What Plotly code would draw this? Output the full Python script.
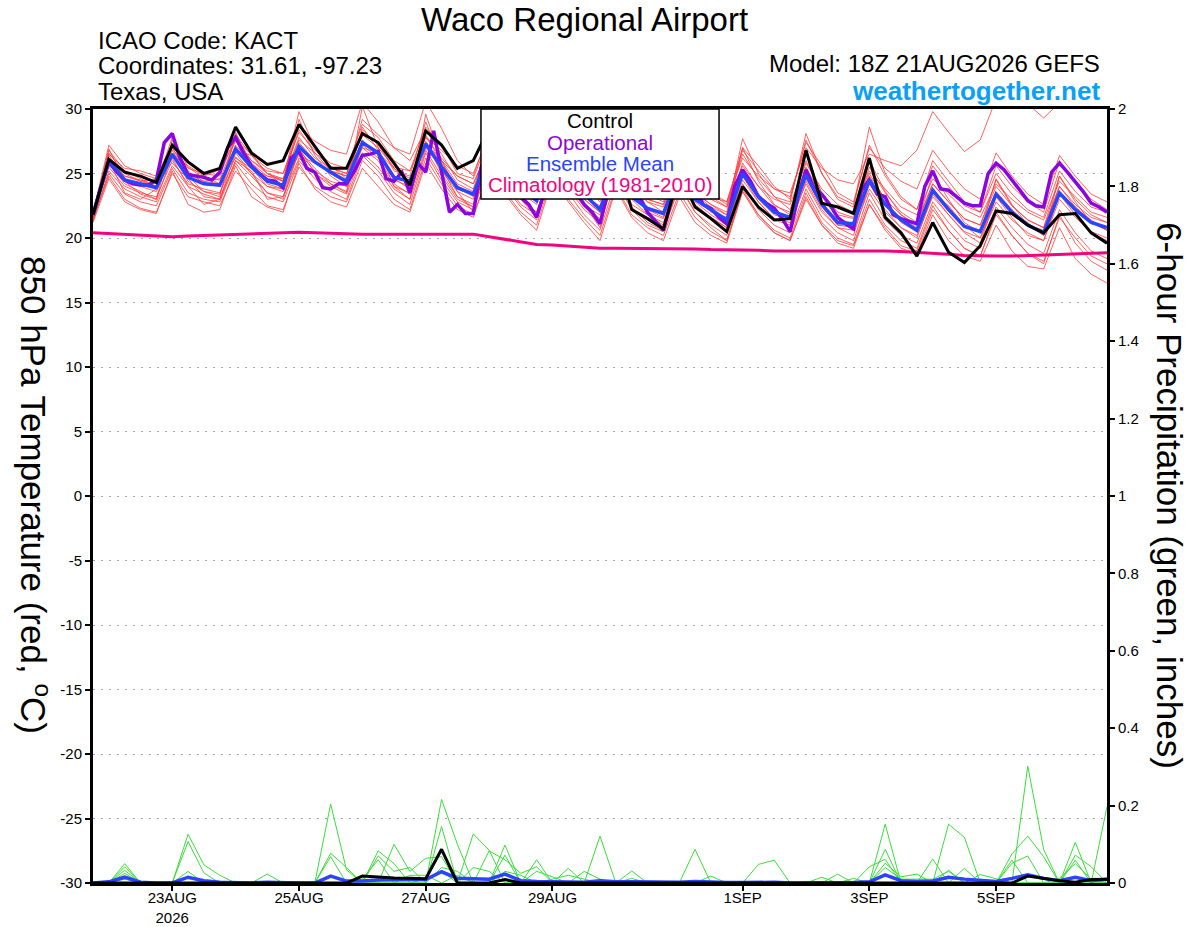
import pandas as pd
import plotly.graph_objects as go

# ── time axes (GEFS 6-hourly, operational GFS 3-hourly) ───────────
t6 = pd.date_range("2026-08-21 18:00", periods=65, freq="6h")
t3 = pd.date_range("2026-08-21 18:00", periods=129, freq="3h")

tick_dates = ["2026-08-23", "2026-08-25", "2026-08-27", "2026-08-29",
              "2026-09-01", "2026-09-03", "2026-09-05"]
tick_labels = ["23AUG<br>2026", "25AUG", "27AUG", "29AUG", "1SEP", "3SEP", "5SEP"]

# ── 850 hPa temperature (C) ───────────────────────────────────────
control_t = [21.8, 26.1, 25.1, 24.8, 24.3, 27.2, 25.9, 25.0, 25.4, 28.6,
             26.6, 25.7, 26.0, 28.8, 27.1, 25.4, 25.4, 28.1, 27.4, 25.8,
             24.1, 28.3, 27.2, 25.4, 26.0, 28.5, 27.0, 25.5, 25.0, 27.8,
             26.0, 24.5, 24.0, 26.5, 22.2, 21.5, 20.7, 25.0, 22.4, 21.5,
             20.5, 24.0, 22.4, 21.4, 21.5, 26.8, 22.7, 22.4, 21.9, 26.2,
             21.6, 20.4, 18.6, 21.2, 18.9, 18.1, 19.4, 22.1, 21.9, 21.0,
             20.4, 21.8, 21.9, 20.4, 19.6]

mean_t = [21.8, 26.0, 24.5, 24.2, 23.9, 26.5, 24.7, 24.2, 24.1, 26.9,
          25.5, 24.4, 24.1, 27.1, 25.9, 25.1, 24.4, 27.4, 26.6, 24.7,
          24.4, 27.3, 25.5, 23.9, 23.4, 26.5, 25.3, 23.8, 22.9, 26.3,
          24.8, 23.4, 22.2, 25.6, 23.2, 22.3, 21.9, 25.2, 23.0, 22.2,
          21.4, 25.0, 23.2, 22.0, 21.6, 24.9, 22.6, 21.2, 21.1, 24.5,
          22.6, 21.4, 20.6, 23.7, 22.2, 20.9, 20.5, 23.4, 22.0, 21.0,
          20.4, 23.5, 22.2, 21.2, 20.8]

oper_t = [21.8, 24.0, 25.9, 25.1, 24.5, 24.2, 24.1, 24.1, 24.5, 27.4,
          28.1, 26.2, 24.9, 24.8, 24.7, 24.5, 25.1, 27.0, 27.8, 26.6,
          25.6, 25.0, 24.5, 24.4, 23.9, 26.2, 26.7, 25.4, 25.1, 23.9,
          23.8, 24.2, 24.2, 25.2, 26.4, 26.5, 26.7, 24.6, 24.4, 25.1,
          23.5, 25.8, 25.1, 28.3, 25.3, 22.0, 22.6, 21.9, 21.9, 25.5,
          27.0, 26.0, 25.0, 24.0, 23.2, 22.6, 21.6, 23.6, 26.4, 25.6,
          24.5, 23.5, 22.6, 22.0, 21.1, 23.6, 25.6, 25.0, 24.2, 23.2,
          22.0, 21.3, 20.6, 22.9, 25.4, 25.0, 24.0, 22.6, 22.3, 21.6,
          21.1, 24.0, 25.3, 24.4, 23.2, 22.7, 22.3, 21.5, 20.5, 23.2,
          25.3, 23.9, 23.4, 22.6, 21.6, 21.1, 20.7, 23.7, 24.5, 23.4,
          23.2, 21.8, 21.5, 21.3, 21.1, 24.0, 25.2, 23.8, 23.7, 23.2,
          22.7, 22.5, 22.5, 25.0, 25.8, 25.3, 24.5, 23.6, 22.9, 22.5,
          22.4, 25.1, 25.8, 25.1, 24.4, 23.6, 22.7, 22.4, 22.0]

clim_t = [20.4, 20.35, 20.3, 20.2, 20.15, 20.1, 20.15, 20.2, 20.25, 20.3,
          20.35, 20.4, 20.4, 20.45, 20.4, 20.35, 20.3, 20.3, 20.3, 20.3,
          20.25, 20.25, 20.3, 20.3, 20.3, 20.1, 19.9, 19.7, 19.5, 19.45,
          19.35, 19.25, 19.2, 19.2, 19.2, 19.2, 19.2, 19.15, 19.15, 19.1,
          19.1, 19.1, 19.05, 19.0, 19.0, 19.0, 19.0, 19.0, 19.0, 19.05,
          19.0, 18.95, 18.9, 18.8, 18.75, 18.65, 18.6, 18.6, 18.6, 18.65,
          18.7, 18.7, 18.75, 18.8, 18.85]

# ensemble members (red)
m01 = [21.9, 27.2, 25.6, 25.0, 24.6, 27.0, 25.0, 24.8, 25.3, 27.5, 26.0, 25.2, 25.0,
       28.6, 27.5, 26.8, 26.5, 30.5, 29.0, 27.0, 26.0, 28.4, 26.5, 24.5, 23.8,
       27.5, 26.0, 24.0, 23.0, 26.8, 25.0, 23.2, 22.5, 25.8, 24.0, 22.8, 22.0,
       25.5, 23.6, 22.6, 21.8, 25.8, 24.0, 22.5, 22.0, 25.5, 23.2, 21.8, 21.5,
       25.0, 23.0, 21.8, 21.0, 24.2, 22.8, 21.5, 21.0, 24.0, 22.5, 21.4, 20.8,
       24.0, 22.6, 21.6, 21.2]
m02 = [21.5, 24.8, 23.0, 22.3, 22.0, 25.0, 23.2, 22.8, 22.5, 25.2, 23.8, 22.5, 22.2,
       25.5, 24.0, 23.2, 22.8, 26.0, 24.8, 23.0, 22.2, 26.2, 24.2, 22.5, 21.8,
       25.0, 23.6, 22.0, 21.0, 24.8, 23.0, 21.5, 20.2, 24.0, 21.8, 20.8, 20.2,
       23.5, 21.6, 20.5, 19.8, 23.8, 21.8, 20.6, 20.0, 23.5, 21.2, 20.0, 19.5,
       23.0, 21.0, 19.8, 19.2, 22.5, 20.6, 19.2, 18.6, 22.0, 20.2, 18.8, 18.0,
       21.8, 19.6, 18.2, 17.5]
m03 = [22.0, 26.8, 25.2, 24.8, 24.2, 27.8, 25.5, 24.6, 24.5, 27.6, 26.5, 25.0, 24.4,
       29.8, 27.0, 25.5, 25.0, 28.2, 27.4, 25.2, 24.8, 29.0, 26.0, 24.2, 23.6,
       27.2, 25.8, 24.0, 23.4, 27.0, 25.4, 24.0, 22.8, 26.4, 24.0, 22.8, 22.4,
       25.6, 23.5, 22.6, 22.0, 27.7, 25.0, 23.2, 22.2, 26.0, 23.5, 22.0, 21.6,
       25.5, 23.5, 22.0, 21.2, 24.2, 22.8, 21.5, 21.0, 24.5, 22.5, 21.4, 20.8,
       24.8, 23.0, 21.8, 21.2]
m04 = [21.7, 25.5, 24.0, 23.5, 23.2, 26.0, 24.2, 23.8, 23.5, 26.3, 25.0, 24.0, 23.6,
       26.6, 25.2, 24.4, 24.0, 27.0, 26.0, 24.0, 23.5, 27.5, 25.0, 23.2, 22.6,
       26.0, 24.8, 23.0, 22.0, 25.6, 24.0, 22.5, 21.8, 25.0, 22.6, 21.8, 21.2,
       24.6, 22.4, 21.6, 20.8, 24.5, 22.8, 21.5, 21.2, 24.2, 22.0, 20.8, 20.6,
       23.8, 22.0, 20.8, 20.2, 23.2, 21.8, 20.5, 20.0, 22.8, 21.4, 20.4, 19.8,
       23.0, 21.6, 20.5, 20.0]
m05 = [21.8, 26.2, 24.8, 24.5, 24.0, 26.8, 25.0, 24.4, 24.2, 27.2, 25.8, 24.8, 24.4,
       27.8, 26.2, 25.4, 25.0, 28.0, 27.0, 25.5, 25.2, 27.8, 26.2, 24.8, 24.2,
       27.0, 25.6, 24.4, 23.6, 26.8, 25.2, 24.0, 23.0, 26.0, 24.2, 23.0, 22.6,
       26.0, 24.0, 23.2, 22.8, 26.2, 24.8, 23.8, 23.5, 27.0, 25.4, 24.5, 24.2,
       26.5, 26.0, 25.6, 26.8, 29.8, 28.2, 26.7, 27.6, 30.8, 31.0, 30.4, 29.3,
       30.5, 31.0, 30.5, 30.2]
m06 = [21.4, 25.0, 23.4, 22.8, 22.5, 25.4, 23.5, 23.0, 22.8, 25.8, 24.2, 23.2, 22.8,
       26.0, 24.6, 23.6, 23.0, 26.4, 25.2, 23.5, 22.6, 26.6, 24.5, 22.8, 22.2,
       25.5, 24.0, 22.4, 21.4, 25.2, 23.5, 21.8, 20.6, 24.4, 22.2, 21.0, 20.5,
       24.0, 22.0, 21.0, 20.2, 24.2, 22.2, 21.0, 20.4, 23.8, 21.6, 20.4, 19.8,
       23.5, 21.4, 20.2, 19.6, 22.8, 21.2, 19.8, 19.2, 22.4, 20.8, 19.5, 18.8,
       22.2, 20.4, 19.0, 18.4]
m07 = [22.1, 26.5, 25.4, 25.2, 24.8, 27.2, 25.4, 25.0, 24.8, 28.0, 26.4, 25.4, 25.0,
       28.2, 26.8, 25.8, 25.4, 28.8, 27.8, 26.0, 25.2, 28.6, 27.2, 25.0, 24.6,
       27.8, 26.4, 24.6, 24.0, 27.4, 25.8, 24.4, 23.4, 26.8, 24.5, 23.4, 23.0,
       26.2, 24.4, 23.2, 22.4, 26.5, 24.6, 23.2, 22.8, 28.1, 25.0, 23.0, 22.4,
       28.6, 25.0, 23.2, 22.2, 25.6, 24.0, 22.5, 22.0, 25.0, 23.4, 22.2, 21.6,
       25.2, 23.6, 22.4, 22.0]
m08 = [21.6, 26.0, 23.5, 23.0, 23.8, 26.2, 24.0, 22.6, 23.0, 26.0, 25.2, 23.0, 23.2,
       27.0, 25.0, 24.2, 23.5, 30.2, 27.0, 24.0, 23.0, 29.6, 26.0, 23.6, 22.0,
       26.8, 24.5, 23.0, 21.6, 26.0, 24.2, 22.6, 20.8, 25.5, 23.8, 22.0, 21.5,
       25.0, 22.8, 21.8, 21.0, 25.2, 23.4, 22.2, 21.4, 25.4, 22.8, 21.0, 20.8,
       24.8, 23.0, 21.2, 20.5, 23.5, 22.5, 21.0, 20.0, 23.2, 22.0, 21.2, 20.2,
       23.6, 22.4, 21.4, 20.6]
m09 = [21.9, 26.4, 24.6, 24.0, 23.6, 26.6, 24.4, 23.6, 23.4, 27.0, 25.4, 24.0, 23.8,
       27.4, 26.0, 25.0, 24.2, 27.6, 26.4, 24.5, 24.0, 27.2, 25.2, 23.6, 23.0,
       26.6, 25.0, 23.5, 22.6, 26.4, 24.6, 23.0, 22.0, 25.8, 23.4, 22.4, 21.8,
       25.4, 23.2, 22.0, 21.6, 25.0, 23.0, 21.8, 21.4, 24.6, 22.4, 21.0, 21.0,
       24.2, 22.6, 21.5, 20.8, 23.8, 22.4, 21.0, 20.6, 23.6, 22.2, 21.0, 20.6,
       24.0, 22.4, 21.2, 20.6]
m10 = [21.3, 25.2, 23.8, 23.2, 22.8, 25.6, 24.0, 23.4, 23.0, 26.0, 24.8, 23.5, 23.2,
       26.2, 25.0, 24.0, 23.4, 26.6, 25.5, 23.8, 23.0, 26.8, 24.8, 23.0, 22.4,
       25.8, 24.2, 22.6, 21.8, 25.4, 23.8, 22.2, 21.2, 24.8, 22.4, 21.2, 20.6,
       24.2, 22.0, 20.8, 19.8, 23.6, 21.8, 20.4, 19.8, 23.2, 21.0, 19.8, 19.4,
       22.6, 20.6, 19.2, 18.8, 21.8, 19.8, 18.6, 18.2, 21.0, 19.0, 17.8, 17.6,
       20.8, 18.4, 17.2, 16.5]
m11 = [21.8, 26.6, 25.0, 24.4, 24.0, 27.0, 25.2, 24.2, 24.0, 27.8, 26.0, 25.0, 24.6,
       28.4, 26.6, 25.2, 24.8, 29.2, 28.0, 27.0, 26.5, 30.6, 28.5, 26.0, 24.8,
       28.2, 26.6, 24.8, 24.0, 27.8, 26.0, 24.5, 23.6, 27.0, 25.0, 23.6, 23.2,
       26.5, 24.6, 23.5, 22.8, 26.8, 25.2, 23.8, 23.2, 27.4, 25.6, 23.5, 22.8,
       27.0, 25.4, 24.4, 23.8, 26.8, 25.2, 23.8, 23.0, 26.6, 24.8, 23.4, 22.6,
       26.4, 24.8, 23.4, 22.8]
m12 = [21.5, 25.8, 24.2, 23.6, 23.0, 26.4, 24.6, 23.2, 23.0, 26.6, 25.0, 23.5, 23.0,
       26.8, 25.4, 24.2, 23.6, 27.2, 26.2, 24.2, 23.4, 27.0, 25.4, 23.2, 22.4,
       26.2, 24.6, 23.0, 22.0, 25.8, 24.0, 22.4, 21.5, 25.2, 23.0, 21.8, 21.0,
       24.8, 22.6, 21.6, 20.8, 24.8, 22.8, 21.4, 21.0, 24.4, 22.2, 20.8, 20.2,
       24.2, 22.2, 20.8, 20.0, 23.4, 21.8, 20.4, 19.6, 23.2, 21.6, 20.2, 19.8,
       23.4, 21.8, 20.4, 19.8]
m13 = [21.6, 26.9, 24.4, 23.4, 23.0, 27.6, 24.8, 23.6, 23.2, 28.2, 25.6, 24.2, 23.8,
       29.2, 26.4, 24.8, 24.0, 28.6, 26.8, 24.6, 23.8, 28.0, 25.8, 24.0, 23.2,
       27.4, 25.4, 23.6, 22.8, 27.0, 24.8, 23.0, 22.0, 26.2, 23.6, 22.2, 21.6,
       25.8, 23.4, 22.4, 21.8, 27.0, 24.4, 22.6, 21.8, 26.6, 23.4, 21.6, 21.0,
       26.0, 23.6, 21.8, 21.0, 25.0, 23.0, 21.2, 20.4, 24.6, 22.6, 21.0, 20.2,
       24.8, 22.8, 21.2, 20.6]
m14 = [22.0, 25.6, 24.8, 24.4, 24.6, 25.8, 24.6, 24.4, 24.6, 26.2, 25.4, 24.8, 24.6,
       26.4, 25.8, 25.2, 24.8, 27.0, 26.6, 25.4, 24.6, 27.4, 26.0, 24.8, 24.2,
       27.0, 25.8, 24.4, 23.8, 26.4, 25.0, 23.8, 23.2, 25.8, 24.0, 23.0, 22.6,
       25.4, 23.8, 23.0, 22.4, 25.6, 24.0, 23.0, 22.6, 25.8, 23.8, 22.6, 22.0,
       25.2, 23.8, 22.4, 21.8, 24.6, 23.4, 22.2, 21.6, 24.2, 23.0, 22.0, 21.4,
       24.4, 23.2, 22.0, 21.6]
m15 = [21.2, 24.6, 22.8, 22.2, 21.9, 25.2, 22.6, 22.0, 22.2, 25.6, 23.2, 22.4, 22.0,
       25.8, 23.8, 22.8, 22.4, 25.4, 24.0, 22.6, 22.0, 25.8, 23.8, 22.2, 21.6,
       25.2, 23.4, 21.8, 20.6, 24.6, 22.8, 21.2, 19.8, 23.8, 21.6, 20.4, 19.8,
       23.2, 21.2, 20.2, 19.6, 23.6, 21.6, 20.4, 19.8, 23.0, 21.0, 19.6, 19.2,
       22.6, 20.8, 19.4, 19.0, 22.2, 20.6, 19.2, 18.6, 21.8, 20.2, 18.8, 18.2,
       21.6, 20.0, 18.6, 18.0]
m16 = [21.7, 26.2, 25.2, 24.6, 24.0, 26.4, 25.6, 24.8, 24.2, 26.8, 26.4, 25.0, 24.4,
       27.6, 26.6, 25.6, 24.6, 28.4, 27.2, 25.4, 24.4, 27.8, 26.8, 25.6, 25.0,
       28.0, 26.4, 24.8, 23.8, 27.6, 26.0, 24.2, 23.2, 26.6, 24.6, 23.4, 22.8,
       26.4, 24.6, 23.4, 22.6, 27.0, 25.6, 24.0, 23.0, 27.6, 25.0, 23.2, 22.6,
       27.2, 24.8, 23.0, 22.2, 26.0, 24.4, 22.8, 22.0, 25.6, 24.0, 22.8, 22.0,
       26.0, 24.4, 23.0, 22.2]

# ── 6-hour precipitation (inches) ─────────────────────────────────
control_p = [0, 0, 0, 0, 0, 0, 0, 0, 0, 0,
             0, 0, 0, 0, 0, 0, 0, 0.018, 0.015, 0.013,
             0.012, 0.011, 0.087, 0, 0, 0, 0.009, 0, 0, 0,
             0, 0, 0, 0, 0, 0, 0, 0, 0, 0,
             0, 0, 0, 0, 0, 0, 0, 0, 0, 0,
             0, 0, 0, 0, 0, 0, 0, 0, 0, 0.018,
             0.012, 0.006, 0.002, 0.009, 0.01]

mean_p = [0, 0.003, 0.015, 0.002, 0, 0, 0.015, 0.006, 0.002, 0,
          0, 0.002, 0, 0, 0, 0.018, 0.005, 0.005, 0.008, 0.008,
          0.007, 0.009, 0.029, 0.012, 0.011, 0.01, 0.023, 0.006, 0.004, 0.003,
          0.003, 0.002, 0.006, 0.003, 0.003, 0.002, 0.002, 0.002, 0.004, 0.002,
          0.001, 0.001, 0.002, 0.002, 0, 0, 0.001, 0.001, 0.001, 0.003,
          0.021, 0.006, 0.004, 0.005, 0.015, 0.01, 0.008, 0.004, 0.012, 0.021,
          0.012, 0.006, 0.015, 0.006, 0.01]

p01 = [0, 0, 0.05, 0, 0, 0, 0.126, 0.047, 0.02, 0,
       0, 0, 0, 0, 0, 0.204, 0.034, 0, 0, 0,
       0, 0, 0.216, 0.10, 0, 0, 0.098, 0, 0, 0,
       0, 0, 0.121, 0, 0, 0, 0, 0, 0.087, 0,
       0, 0, 0, 0, 0, 0, 0, 0, 0, 0,
       0.152, 0, 0, 0, 0, 0, 0, 0, 0, 0.302,
       0.087, 0, 0, 0, 0.197]
p02 = [0, 0, 0.042, 0, 0, 0, 0.107, 0.026, 0, 0,
       0, 0, 0, 0, 0, 0.077, 0.04, 0, 0.083, 0.05,
       0, 0, 0.146, 0, 0.127, 0.085, 0, 0, 0.06, 0,
       0, 0, 0, 0, 0.031, 0, 0, 0, 0, 0,
       0, 0, 0.048, 0.059, 0, 0, 0, 0, 0, 0,
       0, 0, 0, 0, 0.152, 0.118, 0, 0, 0, 0,
       0, 0, 0.105, 0, 0]
p03 = [0, 0, 0.033, 0, 0, 0, 0.03, 0, 0, 0,
       0, 0.023, 0, 0, 0, 0.068, 0, 0, 0, 0.10,
       0.03, 0.064, 0.068, 0, 0, 0, 0.072, 0, 0, 0,
       0.038, 0, 0, 0, 0, 0, 0, 0, 0, 0,
       0, 0, 0, 0, 0, 0, 0, 0.023, 0, 0,
       0.087, 0, 0, 0.062, 0, 0, 0, 0, 0.075, 0.121,
       0.068, 0, 0, 0, 0]
p04 = [0, 0, 0.025, 0, 0, 0, 0.015, 0, 0, 0,
       0, 0, 0, 0, 0, 0, 0, 0, 0.07, 0.03,
       0.04, 0, 0.04, 0.03, 0, 0.083, 0.06, 0.025, 0.042, 0,
       0, 0.03, 0.01, 0, 0, 0, 0, 0, 0, 0,
       0, 0, 0, 0, 0, 0, 0, 0, 0, 0.042,
       0.061, 0, 0, 0, 0, 0.038, 0, 0, 0.059, 0,
       0, 0, 0.072, 0.042, 0]
p05 = [0, 0, 0.015, 0, 0, 0, 0, 0, 0, 0,
       0, 0, 0, 0, 0, 0, 0, 0.01, 0.06, 0,
       0, 0.01, 0.03, 0, 0.04, 0.03, 0, 0, 0.03, 0.016,
       0, 0, 0, 0, 0.012, 0, 0, 0, 0, 0.018,
       0, 0, 0, 0, 0, 0, 0, 0, 0, 0,
       0.051, 0.016, 0.023, 0, 0.033, 0, 0, 0, 0.051, 0.07,
       0, 0, 0.059, 0, 0]
p06 = [0, 0, 0.01, 0, 0, 0, 0, 0, 0, 0,
       0, 0, 0, 0, 0, 0, 0, 0, 0, 0,
       0.02, 0.02, 0, 0.02, 0, 0, 0.03, 0.02, 0, 0.01,
       0.02, 0.01, 0, 0, 0, 0, 0, 0, 0, 0,
       0, 0, 0, 0, 0, 0, 0.015, 0, 0.012, 0,
       0.04, 0.01, 0.01, 0.01, 0.03, 0, 0.022, 0.012, 0, 0,
       0, 0.012, 0.05, 0.01, 0]

temp_members = [m01, m02, m03, m04, m05, m06, m07, m08,
                m09, m10, m11, m12, m13, m14, m15, m16]
precip_members = [p01, p02, p03, p04, p05, p06]

RED = "rgba(255,60,60,0.8)"
GREEN = "rgb(60,220,60)"
PURPLE = "#8a06e0"
BLUE = "#2a44ff"
PINK = "#f0047f"
FONT = "Liberation Sans, Arial, sans-serif"

fig = go.Figure()

for m in temp_members:
    fig.add_trace(go.Scatter(x=t6, y=m, mode="lines",
                             line=dict(color=RED, width=1)))
for p in precip_members:
    fig.add_trace(go.Scatter(x=t6, y=p, mode="lines", yaxis="y2",
                             line=dict(color=GREEN, width=1)))

fig.add_trace(go.Scatter(x=t6, y=clim_t, mode="lines",
                         line=dict(color=PINK, width=3)))
fig.add_trace(go.Scatter(x=t3, y=oper_t, mode="lines",
                         line=dict(color=PURPLE, width=3.5)))
fig.add_trace(go.Scatter(x=t6, y=mean_t, mode="lines",
                         line=dict(color=BLUE, width=3.5)))
fig.add_trace(go.Scatter(x=t6, y=mean_p, mode="lines", yaxis="y2",
                         line=dict(color=BLUE, width=3.5)))
fig.add_trace(go.Scatter(x=t6, y=control_t, mode="lines",
                         line=dict(color="black", width=3)))
fig.add_trace(go.Scatter(x=t6, y=control_p, mode="lines", yaxis="y2",
                         line=dict(color="black", width=3)))

# ── legend box (drawn over the lines) ─────────────────────────────
fig.add_shape(type="rect", xref="paper", yref="paper",
              x0=0.3826, x1=0.6174, y0=0.8837, y1=1.0,
              fillcolor="white", line=dict(color="black", width=1.5),
              layer="above")
legend_items = [("Control", "black"), ("Operational", PURPLE),
                ("Ensemble Mean", BLUE), ("Climatology (1981-2010)", PINK)]
for n, (txt, col) in enumerate(legend_items):
    fig.add_annotation(text=txt, xref="paper", yref="paper",
                       x=0.5, y=0.9845 - n * 0.0275, xanchor="center",
                       yanchor="middle", showarrow=False,
                       font=dict(size=20.5, color=col, family=FONT))

# ── header texts ──────────────────────────────────────────────────
header = [
    ("Waco Regional Airport", 0.485, 1.1155, "center", 33, "black"),
    ("ICAO Code: KACT", 0.003, 1.089, "left", 24, "black"),
    ("Coordinates: 31.61, -97.23", 0.003, 1.0556, "left", 24, "black"),
    ("Texas, USA", 0.003, 1.022, "left", 24, "black"),
    ("Model: 18Z 21AUG2026 GEFS", 0.995, 1.0594, "right", 24, "black"),
    ("<b>weathertogether.net</b>", 0.995, 1.0239, "right", 26, "#0aa0f8"),
]
for txt, x, y, anchor, size, col in header:
    fig.add_annotation(text=txt, xref="paper", yref="paper", x=x, y=y,
                       xanchor=anchor, yanchor="middle", showarrow=False,
                       font=dict(size=size, color=col, family=FONT))

fig.add_annotation(text="850 hPa Temperature (red, <sup>o</sup>C)",
                   xref="paper", yref="paper", x=-0.057, y=0.501,
                   xanchor="center", yanchor="middle",
                   textangle=90, showarrow=False,
                   font=dict(size=35, color="black", family=FONT))
fig.add_annotation(text="6-hour Precipitation (green, inches)",
                   xref="paper", yref="paper", x=1.062, y=0.5,
                   xanchor="center", yanchor="middle",
                   textangle=90, showarrow=False,
                   font=dict(size=35, color="black", family=FONT))

temp_ticks = [-30, -25, -20, -15, -10, -5, 0, 5, 10, 15, 20, 25, 30]
precip_ticks = [0, 0.2, 0.4, 0.6, 0.8, 1, 1.2, 1.4, 1.6, 1.8, 2]

# plot area sits at 93..1107 x 109..883 once the page body margin is removed
fig.update_layout(
    width=1200, height=927,
    margin=dict(l=93, r=93, t=109, b=44, autoexpand=False),
    paper_bgcolor="white", plot_bgcolor="white",
    showlegend=False,
    font=dict(family=FONT, size=15, color="black"),
    xaxis=dict(
        range=[t6[0], t6[-1]],
        tickvals=tick_dates, ticktext=tick_labels,
        showgrid=False, zeroline=False, automargin=False,
        showline=True, linewidth=3, linecolor="black", mirror=True,
        ticks="outside", ticklen=5, tickwidth=1.5, tickcolor="black",
        ticklabelstandoff=-6,
        tickfont=dict(size=15),
    ),
    yaxis=dict(
        range=[-30, 30],
        tickvals=temp_ticks, ticktext=[str(v) for v in temp_ticks],
        showgrid=True, gridcolor="#a8a8a8", griddash="2px,6px", gridwidth=1,
        zeroline=False, automargin=False,
        showline=True, linewidth=3, linecolor="black",
        ticks="outside", ticklen=5, tickwidth=1.5, tickcolor="black",
        tickfont=dict(size=15),
    ),
    yaxis2=dict(
        range=[0, 2], overlaying="y", side="right",
        tickvals=precip_ticks, ticktext=[f"{v:g}" for v in precip_ticks],
        showgrid=False, zeroline=False, automargin=False,
        showline=True, linewidth=3, linecolor="black",
        ticks="outside", ticklen=5, tickwidth=1.5, tickcolor="black",
        tickfont=dict(size=15),
    ),
)

fig.write_html("out.html", config={"displayModeBar": False},
               post_script="document.body.style.margin='0';")
